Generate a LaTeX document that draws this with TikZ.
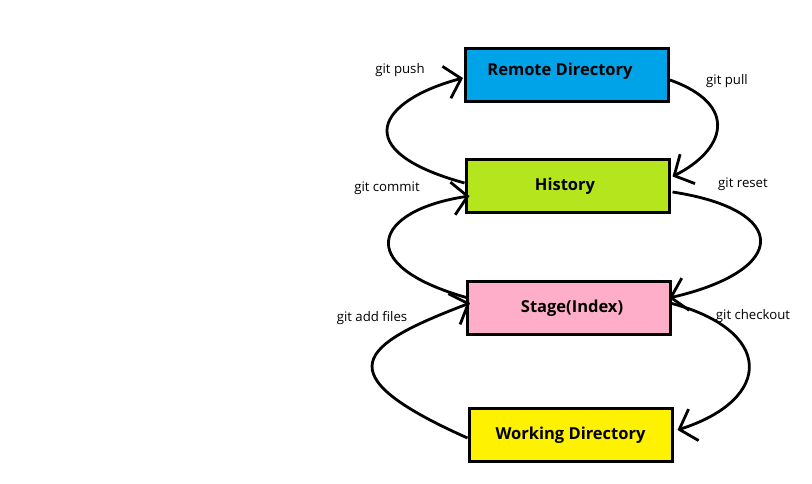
\documentclass[tikz,border=0pt]{standalone}
\usepackage{fontspec}
\setmainfont{Open Sans}
\usetikzlibrary{arrows.meta,calc}
\definecolor{cblue}{HTML}{00A2E8}
\definecolor{clime}{HTML}{B5E61D}
\definecolor{cpink}{HTML}{FFAEC9}
\definecolor{cyellow}{HTML}{FFF200}
\tikzset{
  box/.style={draw=black, line width=3pt, minimum width=203pt, minimum height=53pt, inner sep=0pt, font=\fontsize{16.5}{19}\selectfont\bfseries},
  conn/.style={line width=2.8pt, -{Straight Barb[length=15pt,width=33pt]}},
  lbl/.style={font=\fontsize{13.2}{15}\selectfont, inner sep=0pt}
}
\begin{document}
\begin{tikzpicture}[x=1pt,y=-1pt]
\useasboundingbox[fill=white] (0,0) rectangle (812,484);
\node[box, fill=cblue]   (remote) at (567,75)    {\raisebox{11pt}{\hspace*{-14pt}Remote Directory}};
\node[box, fill=clime]   (hist)   at (567.5,186.5) {\raisebox{4pt}{\hspace*{-5pt}History}};
\node[box, fill=cpink]   (stage)  at (569,308)   {\hspace*{6pt}Stage(Index)};
\node[box, fill=cyellow] (work)   at (570.5,435) {Working Directory};

\draw[conn] ($(hist.west)+(0,-3.5)$) .. controls (345,150) and (380,100) .. ($(remote.west)+(-1,3)$);
\draw[conn] ($(remote.east)+(0,5)$) .. controls (740,105) and (725,150) .. ($(hist.east)+(2,-10)$);
\draw[conn] ($(stage.west)+(2,-10)$) .. controls (350,265) and (375,210) .. ($(hist.west)+(5,9.5)$);
\draw[conn] ($(hist.east)+(2,5.5)$) .. controls (790,210) and (790,270) .. ($(stage.east)+(-3,-10)$);
\draw[conn] ($(work.west)+(0,3)$) .. controls (322,373) and (360,345) .. ($(stage.west)+(4,-5)$);
\draw[conn] ($(stage.east)+(-2,-5)$) .. controls (774,330) and (774,399) .. ($(work.east)+(4,-5)$);

\node[lbl] (lpush)   at (400,70)  {git push};
\node[lbl] (lpull)   at (727,81)  {git pull};
\node[lbl] (lcommit) at (387,188) {git commit};
\node[lbl] (lreset)  at (743,184) {git reset};
\node[lbl] (ladd)    at (372,318) {git add files};
\node[lbl] (lcheck)  at (753,316) {git checkout};
\end{tikzpicture}
\end{document}
